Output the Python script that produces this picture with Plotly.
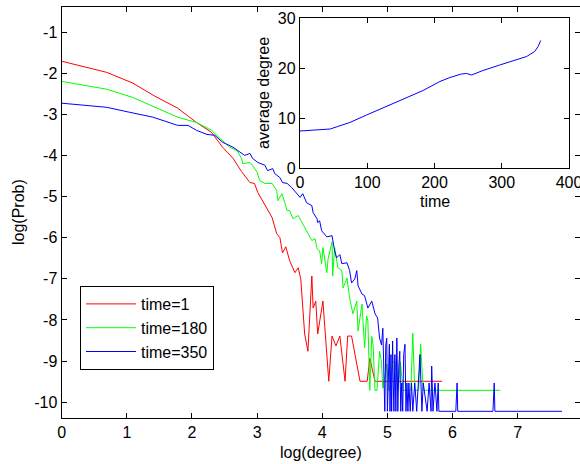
import plotly.graph_objects as go

# ---------------- data ----------------
red_x = [0, 0.69, 1.09, 1.43, 1.78, 2.07, 2.30, 2.47, 2.63, 2.76, 2.89, 2.96, 3.01, 3.15, 3.23,
         3.30, 3.35, 3.39, 3.44, 3.50, 3.58, 3.63, 3.67, 3.73, 3.78, 3.84, 3.86, 3.90, 3.93, 4.01,
         4.07, 4.10, 4.15, 4.21, 4.27, 4.35, 4.39, 4.45, 4.53, 4.58, 4.69, 4.73, 4.81, 5.84]
red_y = [-1.71, -1.98, -2.24, -2.56, -2.85, -3.20, -3.44, -3.80, -4.07, -4.39, -4.66, -4.68, -4.90, -5.29, -5.51,
         -5.90, -6.00, -6.37, -6.22, -6.56, -6.85, -6.73, -7.00, -8.34, -8.76, -6.93, -7.71, -7.54, -8.34, -7.54,
         -8.88, -9.49, -8.39, -8.63, -8.39, -9.49, -8.39, -8.39, -9.07, -9.49, -9.49, -8.93, -9.49, -9.49]

green_x = [0, 0.69, 1.09, 1.46, 1.78, 2.07, 2.30, 2.43, 2.58, 2.69, 2.76, 2.78, 2.89, 2.93, 3.00,
           3.04, 3.12, 3.23, 3.30, 3.32, 3.38, 3.43, 3.46, 3.50, 3.55, 3.63, 3.69, 3.73, 3.78, 3.84,
           3.89, 3.92, 3.96, 3.99, 4.01, 4.07, 4.09, 4.15, 4.16, 4.19, 4.24, 4.30, 4.32, 4.38, 4.42,
           4.47, 4.53, 4.55, 4.61, 4.65, 4.68, 4.70, 4.73, 4.76, 4.78, 4.81, 4.84, 4.88, 4.91, 4.93,
           4.99, 5.02, 5.04, 5.08, 5.12, 5.16, 5.20, 5.24, 5.28,
           5.36, 5.39, 5.42, 5.48, 5.51, 5.55, 6.73]
green_y = [-2.20, -2.39, -2.59, -2.85, -3.07, -3.20, -3.39, -3.59, -3.80, -3.88, -4.07, -4.20, -4.17, -4.24, -4.41,
           -4.61, -4.68, -4.68, -4.85, -5.10, -4.93, -5.17, -5.34, -5.34, -5.54, -5.46, -5.63, -5.76, -5.88, -6.07,
           -6.02, -6.27, -6.32, -6.63, -6.24, -6.85, -6.51, -6.10, -6.93, -6.24, -6.73, -6.80, -7.22, -6.98, -7.46,
           -7.85, -7.54, -8.27, -7.61, -8.68, -7.90, -8.02, -9.71, -8.40, -8.59, -9.71, -9.71, -8.76, -9.02, -9.66,
           -9.07, -9.71, -9.71, -9.02, -9.02, -9.71, -9.02, -9.71, -9.71,
           -9.71, -8.32, -9.71, -9.71, -8.59, -9.71, -9.71]

blue_x = [0, 0.69, 1.04, 1.40, 1.78, 1.94, 2.07, 2.23, 2.35, 2.47, 2.63, 2.73, 2.81, 2.89, 2.93,
          3.01, 3.12, 3.16, 3.24, 3.27, 3.35, 3.39, 3.46, 3.53, 3.61, 3.66, 3.70, 3.76, 3.84, 3.86,
          3.92, 3.93, 3.96, 3.99, 4.07, 4.15, 4.19, 4.22, 4.27, 4.30, 4.38, 4.42, 4.45, 4.50, 4.53,
          4.55, 4.61, 4.65, 4.70, 4.76, 4.81, 4.85, 4.88, 4.91, 4.93,
          4.945, 4.96, 4.975, 4.99, 5.00, 5.015, 5.03, 5.04, 5.055, 5.065, 5.08, 5.09, 5.10, 5.115,
          5.13, 5.145, 5.16, 5.175, 5.19, 5.205, 5.22, 5.235, 5.25, 5.27, 5.285, 5.30, 5.315, 5.33,
          5.35, 5.37, 5.39, 5.42, 5.45, 5.50, 5.53, 5.55, 5.61, 5.64, 5.67, 5.68, 5.70, 5.73, 5.76,
          5.78, 5.79, 6.05, 6.07, 6.08, 6.62, 6.64, 6.65, 7.68]
blue_y = [-2.73, -2.83, -2.95, -3.07, -3.27, -3.27, -3.39, -3.49, -3.51, -3.68, -3.80, -3.90, -4.00, -3.95, -4.07,
          -4.17, -4.24, -4.37, -4.32, -4.44, -4.54, -4.66, -4.68, -4.78, -4.93, -5.02, -4.93, -5.15, -5.22, -5.39,
          -5.54, -5.63, -5.59, -5.83, -5.98, -5.95, -6.32, -6.49, -6.41, -6.63, -6.61, -6.80, -7.10, -7.00, -6.80,
          -7.17, -7.37, -7.41, -7.71, -7.54, -7.85, -7.95, -8.44, -8.61, -8.20,
          -9.12, -10.22, -8.61, -8.44, -10.22, -9.12, -8.59, -10.22, -8.84, -10.22, -8.51, -9.53, -10.22, -8.84,
          -10.22, -8.44, -10.22, -9.12, -8.76, -10.22, -9.53, -10.22, -8.84, -8.59, -10.22, -9.53, -10.22, -9.53,
          -10.22, -9.53, -10.22, -9.53, -10.22, -8.84, -10.22, -9.53, -10.22, -9.53, -10.22, -9.12, -10.22, -9.53, -10.22,
          -9.53, -10.22, -10.22, -9.53, -10.22, -10.22, -9.53, -10.22, -10.22]

series_names = ["time=1", "time=180", "time=350"]
series_colors = ["#FF0000", "#00FF00", "#0000FF"]

inset_time = [0, 15, 30, 45, 56, 74, 99, 114, 139, 159, 183, 208, 223, 240, 248, 255,
              272, 297, 322, 337, 349, 354, 358]
inset_avg_degree = [7.4, 7.5, 7.7, 7.8, 8.3, 9.1, 10.6, 11.5, 13.0, 14.1, 15.5, 17.3, 18.1, 18.8, 18.9, 18.6,
                    19.5, 20.6, 21.6, 22.3, 23.3, 24.3, 25.5]

main_xtick_vals = [0, 1, 2, 3, 4, 5, 6, 7]
main_ytick_vals = [-1, -2, -3, -4, -5, -6, -7, -8, -9, -10]
main_ytick_text = ["-1", "-2", "-3", "-4", "-5", "-6", "-7", "-8", "-9", "-10"]
inset_xtick_vals = [0, 100, 200, 300, 400]
inset_ytick_vals = [0, 10, 20, 30]

# ---------------- layout geometry (pixels) ----------------
W, H = 580, 464
FONT = "Liberation Sans, Arial, Helvetica, sans-serif"
FS = 16


def fx(px):
    return px / W


def fy(py):
    return 1 - py / H


fig = go.Figure()

for xs, ys, name, col in zip([red_x, green_x, blue_x], [red_y, green_y, blue_y],
                             series_names, series_colors):
    fig.add_trace(go.Scatter(x=xs, y=ys, mode="lines", name=name,
                             line=dict(color=col, width=1), xaxis="x", yaxis="y"))

fig.add_trace(go.Scatter(x=inset_time, y=inset_avg_degree, mode="lines", showlegend=False,
                         line=dict(color="#0000FF", width=1), xaxis="x2", yaxis="y2"))

# empty helper trace so the right-hand tick axis is drawn
fig.add_trace(go.Scatter(x=[], y=[], mode="lines", showlegend=False, hoverinfo="skip",
                         xaxis="x", yaxis="y3"))

axis_common = dict(showgrid=False, zeroline=False, showline=True, linecolor="black",
                   linewidth=1.3, ticks="inside", ticklen=5, tickwidth=1, tickcolor="black",
                   automargin=False, ticklabeloverflow="allow",
                   tickfont=dict(family=FONT, size=FS, color="black"))

main_xrange = [0, (W - 61.7) / 65.14]
main_yrange = [-10.375, -0.392]

fig.update_layout(
    width=W, height=H,
    margin=dict(l=0, r=0, t=0, b=0, autoexpand=False),
    paper_bgcolor="white", plot_bgcolor="white",
    font=dict(family=FONT, size=FS, color="black"),
    xaxis=dict(domain=[fx(61.7), 1.0], range=main_xrange, tickmode="array",
               tickvals=main_xtick_vals, mirror="ticks", anchor="y", **axis_common),
    yaxis=dict(domain=[fy(417.7), fy(7)], range=main_yrange, tickmode="array",
               tickvals=main_ytick_vals, ticktext=main_ytick_text, anchor="x", **axis_common),
    yaxis3=dict(overlaying="y", side="right", anchor="x", range=main_yrange, tickmode="array",
                tickvals=main_ytick_vals, showticklabels=False, showline=False, showgrid=False,
                zeroline=False, ticks="inside", ticklen=5, tickcolor="black", automargin=False),
    xaxis2=dict(domain=[fx(300), fx(569)], range=[0, 400], tickmode="array",
                tickvals=inset_xtick_vals, mirror="ticks", anchor="y2", **axis_common),
    yaxis2=dict(domain=[fy(168), fy(18)], range=[0, 30], tickmode="array",
                tickvals=inset_ytick_vals, mirror="ticks", anchor="x2", **axis_common),
    legend=dict(x=fx(80), y=fy(286), xanchor="left", yanchor="top",
                bgcolor="white", bordercolor="black", borderwidth=1,
                font=dict(family=FONT, size=FS, color="black"),
                itemwidth=50),
    showlegend=True,
)

annots = [
    dict(text="log(degree)", x=fx(321), y=fy(452), textangle=0),
    dict(text="log(Prob)", x=fx(18), y=fy(212), textangle=-90),
    dict(text="average degree", x=fx(263), y=fy(93), textangle=-90),
    dict(text="time", x=fx(434.5), y=fy(201.5), textangle=0),
]
for a in annots:
    fig.add_annotation(xref="paper", yref="paper", showarrow=False, xanchor="center",
                       yanchor="middle", font=dict(family=FONT, size=FS, color="black"), **a)

fig.write_html("out.html", config={"displayModeBar": False},
               post_script="document.body.style.margin='0px';document.body.style.overflow='hidden';")
